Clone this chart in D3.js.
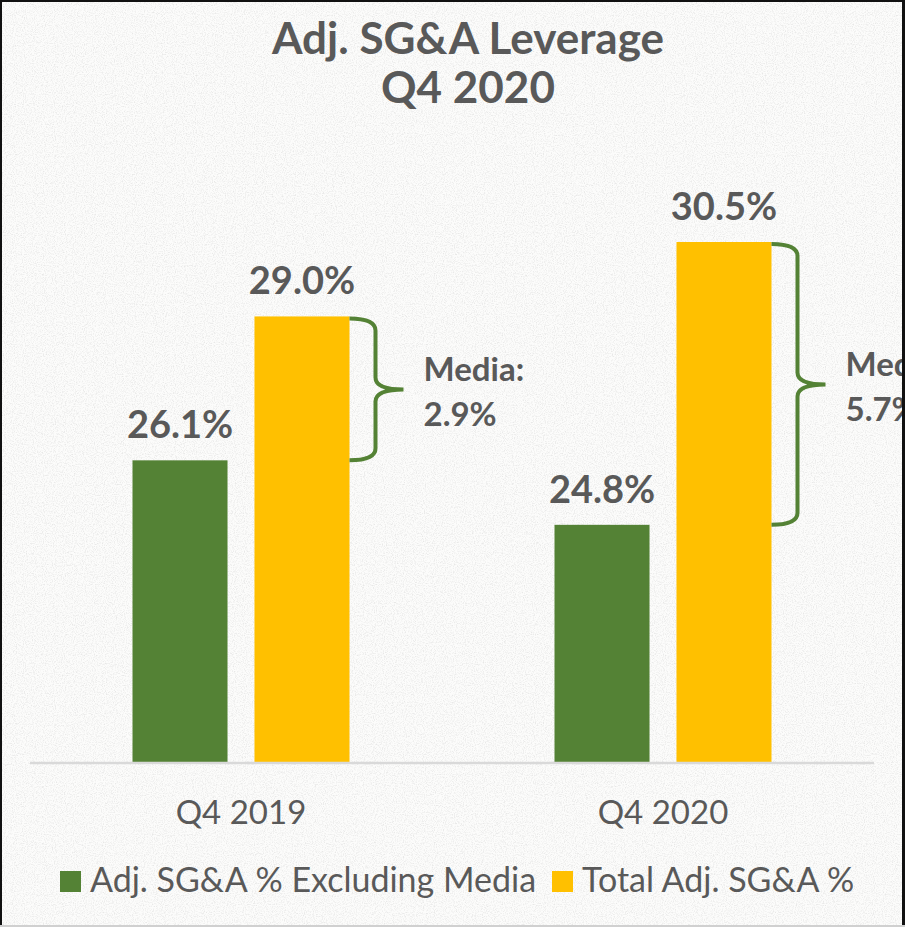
<!DOCTYPE html>
<html>
<head>
<meta charset="utf-8">
<script src="https://cdn.jsdelivr.net/npm/d3@7"></script>
<style>
  html, body { margin: 0; padding: 0; background: #fff; }
  svg { display: block; }
  text { font-family: Lato, "Open Sans", sans-serif; fill: #595959; }
</style>
</head>
<body>
<div class="chart"></div>
<script>
// values
const categories = ["Q4 2019", "Q4 2020"];
const seriesNames = ["Adj. SG&A % Excluding Media", "Total Adj. SG&A %"];
const exclMedia = [26.1, 24.8];
const totalAdj = [29.0, 30.5];
const mediaShare = ["2.9%", "5.7%"];
const titleLines = ["Adj. SG&A Leverage", "Q4 2020"];

const width = 905,
    height = 927;
const colors = ["#548235", "#ffc000"];

const svg = d3.select(".chart").append("svg")
    .attr("width", width)
    .attr("height", height);

// paper background with a faint speckle
const defs = svg.append("defs");
const f = defs.append("filter").attr("id", "paper");
f.append("feTurbulence").attr("type", "fractalNoise").attr("baseFrequency", 0.9).attr("numOctaves", 2).attr("seed", 4);
f.append("feColorMatrix").attr("type", "matrix")
    .attr("values", "0 0 0 0 0.55  0 0 0 0 0.55  0 0 0 0 0.55  0 0 0 -2.6 1.45");
svg.append("rect").attr("width", width).attr("height", height).attr("fill", "#fcfcfb");
svg.append("rect").attr("width", width).attr("height", height).attr("filter", "url(#paper)").attr("opacity", 0.35);

// scales: the axis does not start at zero
const x0 = d3.scaleBand().domain(categories).range([30, 874]);
const x1 = d3.scaleBand().domain(seriesNames).range([0, 217]).paddingInner(0.221);
const y = d3.scaleLinear().domain([20, 30.5]).range([763, 242]);
const groupLeft = c => x0(c) + x0.bandwidth() / 2 - 108.5;

// title
svg.selectAll(".title")
    .data(titleLines)
    .join("text")
    .attr("class", "title")
    .attr("x", 468)
    .attr("y", (d, i) => 54 + i * 49)
    .attr("text-anchor", "middle")
    .style("font-size", "44px")
    .style("font-weight", "bold")
    .text(d => d);

// bars
const rows = categories.map((c, i) => ({ cat: c, vals: [exclMedia[i], totalAdj[i]], media: mediaShare[i] }));

const groups = svg.selectAll(".grp")
    .data(rows)
    .join("g")
    .attr("class", "grp")
    .attr("transform", d => `translate(${groupLeft(d.cat)},0)`);

groups.selectAll("rect")
    .data(d => d.vals.map((v, j) => ({ v, s: seriesNames[j], j })))
    .join("rect")
    .attr("x", d => x1(d.s))
    .attr("y", d => y(d.v))
    .attr("width", x1.bandwidth())
    .attr("height", d => y(20) - y(d.v))
    .attr("fill", d => colors[d.j]);

groups.selectAll(".val")
    .data(d => d.vals.map((v, j) => ({ v, s: seriesNames[j] })))
    .join("text")
    .attr("class", "val")
    .attr("x", d => x1(d.s) + x1.bandwidth() / 2)
    .attr("y", d => y(d.v) - 22)
    .attr("text-anchor", "middle")
    .style("font-size", "38px")
    .style("font-weight", "bold")
    .text(d => d.v.toFixed(1) + "%");

// axis line
svg.append("line")
    .attr("x1", 30).attr("x2", 874)
    .attr("y1", y(20)).attr("y2", y(20))
    .attr("stroke", "#d9d9d9")
    .attr("stroke-width", 2.5);

svg.selectAll(".cat")
    .data(categories)
    .join("text")
    .attr("class", "cat")
    .attr("x", d => x0(d) + x0.bandwidth() / 2)
    .attr("y", 824)
    .attr("text-anchor", "middle")
    .style("font-size", "33px")
    .text(d => d);

// media brace next to the total bar
groups.each(function (d) {
    const g = d3.select(this);
    const bx = x1(seriesNames[1]) + x1.bandwidth();
    const top = y(d.vals[1]) + 2;
    const bot = y(d.vals[0]);
    const mid = (top + bot) / 2;
    const xv = bx + 26, xt = bx + 54, r = 12;
    const p = `M${bx},${top} Q${xv},${top} ${xv},${top + r} L${xv},${mid - r} Q${xv},${mid} ${xt},${mid}` +
        ` M${xt},${mid} Q${xv},${mid} ${xv},${mid + r} L${xv},${bot - r} Q${xv},${bot} ${bx},${bot}`;
    g.append("path")
        .attr("d", p)
        .attr("fill", "none")
        .attr("stroke", colors[0])
        .attr("stroke-width", 4);
    const t = g.append("text")
        .attr("x", bx + 74)
        .attr("y", mid - 8)
        .style("font-size", "33px")
        .style("font-weight", "bold");
    t.append("tspan").text("Media:");
    t.append("tspan").attr("x", bx + 74).attr("dy", 45).text(d.media);
});

// legend
const legend = svg.append("g").attr("transform", "translate(0,892)");
const legX = [60, 552];
seriesNames.forEach((s, i) => {
    legend.append("rect")
        .attr("x", legX[i]).attr("y", -21)
        .attr("width", 21).attr("height", 21)
        .attr("fill", colors[i]);
    legend.append("text")
        .attr("x", legX[i] + 30)
        .attr("y", 0)
        .style("font-size", "34px")
        .text(s);
});

// frame
svg.append("rect").attr("x", 0).attr("y", 0).attr("width", width).attr("height", 2).attr("fill", "#111");
svg.append("rect").attr("x", 0).attr("y", 0).attr("width", 2).attr("height", height).attr("fill", "#111");
svg.append("rect").attr("x", 902).attr("y", 0).attr("width", 3).attr("height", height).attr("fill", "#111");
svg.append("rect").attr("x", 0).attr("y", 925).attr("width", width).attr("height", 2).attr("fill", "#d0d0d0");
</script>
</body>
</html>
